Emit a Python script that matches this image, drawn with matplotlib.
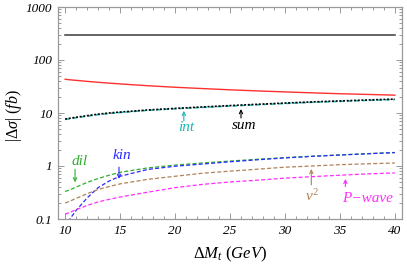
import matplotlib
matplotlib.use("Agg")
import matplotlib.pyplot as plt
from matplotlib.ticker import FixedLocator, LogLocator, NullFormatter, MultipleLocator

plt.rcParams['mathtext.fontset'] = 'custom'
plt.rcParams['mathtext.rm'] = 'Liberation Serif'
plt.rcParams['mathtext.it'] = 'Liberation Serif:italic'
plt.rcParams['mathtext.bf'] = 'Liberation Serif:bold'
plt.rcParams['font.family'] = ['Liberation Serif', 'DejaVu Serif']

# ---- data ----
dm = [10, 10.5, 11, 12, 13, 14, 15, 17.5, 20, 22.5, 25, 27.5, 30, 32.5, 35, 37.5, 40]
total = [300] * len(dm)
red = [43.3, 42.2, 41.3, 39.5, 38.0, 36.6, 35.4, 32.7, 30.6, 28.9, 27.4, 26.1, 25.0, 24.0, 23.1, 22.4, 21.7]
s_sum = [7.7, 8.0, 8.3, 8.9, 9.5, 10.0, 10.4, 11.4, 12.2, 13.0, 13.8, 14.6, 15.4, 16.2, 16.9, 17.6, 18.3]
s_int = [7.55, 7.85, 8.15, 8.7, 9.3, 9.8, 10.2, 11.2, 12.0, 12.75, 13.5, 14.3, 15.1, 15.9, 16.55, 17.25, 17.95]
s_dil = [0.33, 0.36, 0.40, 0.49, 0.58, 0.67, 0.76, 0.92, 1.04, 1.14, 1.24, 1.34, 1.44, 1.53, 1.62, 1.71, 1.80]
s_kin = [0.07, 0.105, 0.145, 0.25, 0.39, 0.52, 0.64, 0.86, 0.99, 1.09, 1.20, 1.31, 1.42, 1.52, 1.61, 1.70, 1.79]
s_v2 = [0.20, 0.22, 0.245, 0.30, 0.36, 0.41, 0.46, 0.56, 0.64, 0.73, 0.80, 0.87, 0.95, 1.00, 1.06, 1.10, 1.14]
s_pw = [0.123, 0.135, 0.15, 0.18, 0.21, 0.235, 0.26, 0.32, 0.39, 0.45, 0.50, 0.54, 0.59, 0.63, 0.67, 0.71, 0.74]
x_ticks = [10, 15, 20, 25, 30, 35, 40]
y_ticks = [0.1, 1, 10, 100, 1000]
y_ticklabels = ['0.1', '1', '10', '100', '1000']

c_black = '#3a3a3a'
c_red = '#ff3030'
c_cyan = '#20b4b4'
c_green = '#2cb02c'
c_blue = '#2a2aff'
c_brown = '#b08258'
c_mag = '#ff2cff'

fig = plt.figure(figsize=(4.07, 2.65), dpi=100)
ax = fig.add_axes([58/407, 1-219/265, (402-58)/407, (219-7)/265])
ax.set_yscale('log')
ax.set_xlim(9.35, 40.65)
ax.set_ylim(0.1, 1000)

dash = (0, (3.2, 1.8))
ax.plot(dm, total, color=c_black, lw=1.1)
ax.plot(dm, red, color=c_red, lw=1.0)
ax.plot(dm, s_int, color=c_cyan, lw=1.1, ls=dash)
ax.plot(dm, s_sum, color='black', lw=1.2, ls=(0, (1.2, 1.0)))
ax.plot(dm, s_dil, color=c_green, lw=0.9, ls=dash)
ax.plot(dm, s_kin, color=c_blue, lw=0.9, ls=dash)
ax.plot(dm, s_v2, color=c_brown, lw=0.9, ls=dash)
ax.plot(dm, s_pw, color=c_mag, lw=0.9, ls=dash)

tfont = dict(family='Liberation Serif', style='italic', fontsize=11)

def label(txt, color, tx, ty, ax0, y0, y1):
    ax.text(tx, ty, txt, color=color, ha='center', va='center', **tfont)
    ax.annotate('', xy=(ax0, y1), xytext=(ax0, y0),
                arrowprops=dict(arrowstyle='->,head_length=0.25,head_width=0.12',
                                color=color, lw=0.8, shrinkA=0, shrinkB=0))

label('dil', c_green, 11.3, 1.24, 10.9, 0.87, 0.49)
label('kin', c_blue, 15.2, 1.55, 14.9, 0.95, 0.57)
label('int', c_cyan, 21.0, 5.3, 20.8, 7.1, 11.0)
label('sum', 'black', 26.3, 5.7, 26.0, 8.05, 11.9)
label(r'$v^2$', c_brown, 32.5, 0.27, 32.4, 0.44, 0.88)
label('P\u2212wave', c_mag, 37.5, 0.244, 35.5, 0.41, 0.57)

# axes styling
for sp in ax.spines.values():
    sp.set_color('#999999')
    sp.set_linewidth(0.9)
ax.xaxis.set_major_locator(FixedLocator(x_ticks))
ax.xaxis.set_minor_locator(MultipleLocator(1))
ax.yaxis.set_major_locator(FixedLocator(y_ticks))
ax.yaxis.set_minor_locator(LogLocator(base=10, subs=range(2, 10)))
ax.yaxis.set_minor_formatter(NullFormatter())
ax.set_yticklabels(y_ticklabels)
ax.set_xticklabels([str(v) for v in x_ticks])
ax.tick_params(which='both', direction='in', top=True, right=True, color='#999999', width=0.7)
ax.tick_params(which='major', length=4, pad=4)
ax.tick_params(which='minor', length=2)
for lab in ax.get_xticklabels() + ax.get_yticklabels():
    lab.set_fontstyle('italic')
    lab.set_fontsize(9.5)
    lab.set_family('Liberation Serif')

ax.set_ylabel(r'$|\Delta\sigma|\ (fb)$', fontsize=11.5)
ax.yaxis.label.set_verticalalignment('center')
ax.yaxis.set_label_coords(-0.128, 0.49)
ax.set_xlabel(r'$\Delta M_t\ (GeV)$', fontsize=12, labelpad=6)

fig.savefig('out.png', dpi=100)
